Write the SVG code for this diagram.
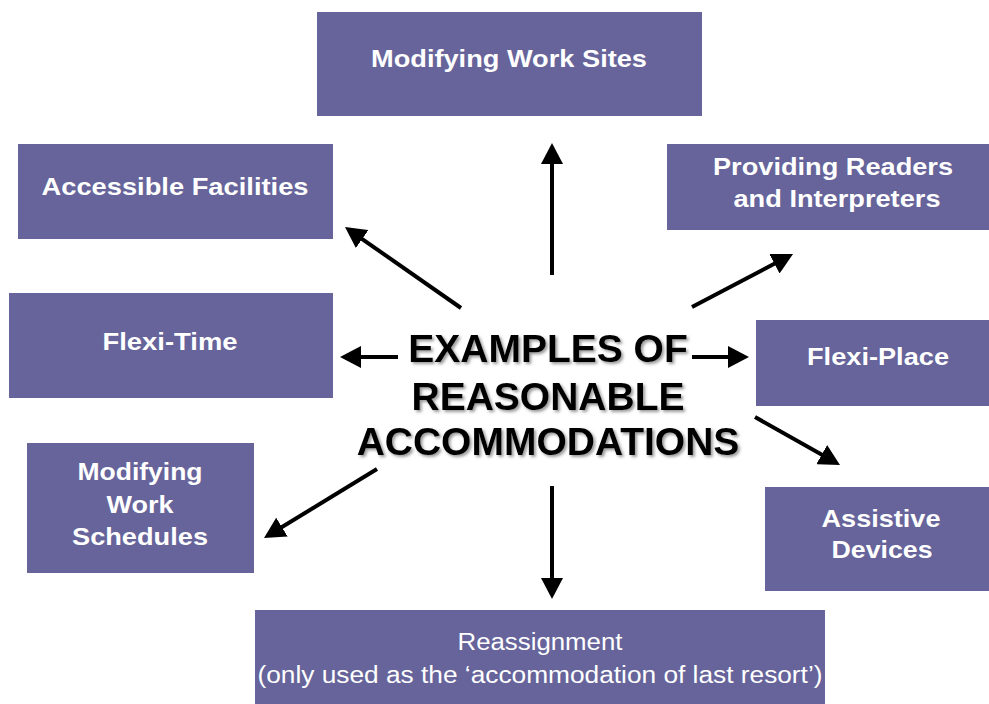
<svg xmlns="http://www.w3.org/2000/svg" width="989" height="704" viewBox="0 0 989 704">
<defs>
<style>
.box{fill:#66649a;}
.lbl{font-family:"Liberation Sans",Arial,sans-serif;font-weight:bold;font-size:24px;fill:#ffffff;text-anchor:middle;}
.lbn{font-family:"Liberation Sans",Arial,sans-serif;font-size:23.5px;fill:#ffffff;text-anchor:middle;}
.center{font-family:"Liberation Sans",Arial,sans-serif;font-weight:bold;font-size:39px;fill:#000000;text-anchor:middle;}
.conn{stroke:#000000;stroke-width:4;fill:none;marker-end:url(#arrow);}
</style>
<marker id="arrow" markerUnits="userSpaceOnUse" markerWidth="22" markerHeight="22" refX="10" refY="11" orient="auto">
<path d="M0,0 L21,11 L0,22 z" fill="#000000"/>
</marker>
<filter id="shadow" x="-10%" y="-20%" width="120%" height="140%">
<feDropShadow dx="2" dy="2" stdDeviation="1.5" flood-color="#555555" flood-opacity="0.6"/>
</filter>
</defs>
<rect width="989" height="704" fill="#ffffff"/>

<g id="modifying-work-sites">
<rect class="box" x="317" y="12" width="385" height="104"/>
<text class="lbl" x="509" y="67" textLength="276" lengthAdjust="spacingAndGlyphs">Modifying Work Sites</text>
</g>
<g id="accessible-facilities">
<rect class="box" x="18" y="144" width="315" height="95"/>
<text class="lbl" x="175" y="195" textLength="267" lengthAdjust="spacingAndGlyphs">Accessible Facilities</text>
</g>
<g id="providing-readers">
<rect class="box" x="667" y="144" width="322" height="86"/>
<text class="lbl" x="833" y="175" textLength="240" lengthAdjust="spacingAndGlyphs">Providing Readers</text>
<text class="lbl" x="837" y="207" textLength="207" lengthAdjust="spacingAndGlyphs">and Interpreters</text>
</g>
<g id="flexi-time">
<rect class="box" x="9" y="293" width="324" height="105"/>
<text class="lbl" x="170" y="350" textLength="135" lengthAdjust="spacingAndGlyphs">Flexi-Time</text>
</g>
<g id="flexi-place">
<rect class="box" x="756" y="320" width="233" height="86"/>
<text class="lbl" x="878" y="365" textLength="142" lengthAdjust="spacingAndGlyphs">Flexi-Place</text>
</g>
<g id="modifying-work-schedules">
<rect class="box" x="27" y="443" width="227" height="130"/>
<text class="lbl" x="140" y="480" textLength="125" lengthAdjust="spacingAndGlyphs">Modifying</text>
<text class="lbl" x="140" y="513" textLength="67" lengthAdjust="spacingAndGlyphs">Work</text>
<text class="lbl" x="140" y="545" textLength="136" lengthAdjust="spacingAndGlyphs">Schedules</text>
</g>
<g id="assistive-devices">
<rect class="box" x="765" y="487" width="224" height="104"/>
<text class="lbl" x="881" y="527" textLength="119" lengthAdjust="spacingAndGlyphs">Assistive</text>
<text class="lbl" x="882" y="558" textLength="101" lengthAdjust="spacingAndGlyphs">Devices</text>
</g>
<g id="reassignment">
<rect class="box" x="255" y="610" width="570" height="94"/>
<text class="lbn" x="540" y="650" textLength="165" lengthAdjust="spacingAndGlyphs">Reassignment</text>
<text class="lbn" x="540" y="683" textLength="565" lengthAdjust="spacingAndGlyphs">(only used as the ‘accommodation of last resort’)</text>
</g>

<g id="center" filter="url(#shadow)">
<text class="center" x="548" y="362">EXAMPLES OF</text>
<text class="center" x="548" y="410">REASONABLE</text>
<text class="center" x="548" y="455">ACCOMMODATIONS</text>
</g>

<g id="connectors">
<line class="conn" x1="552" y1="275" x2="552" y2="154"/>
<line class="conn" x1="461" y1="308" x2="354" y2="233.3"/>
<line class="conn" x1="692" y1="307" x2="783.3" y2="259.1"/>
<line class="conn" x1="398" y1="357" x2="351" y2="357"/>
<line class="conn" x1="692" y1="357" x2="738" y2="357"/>
<line class="conn" x1="755" y1="417" x2="830.4" y2="459.6"/>
<line class="conn" x1="377" y1="469" x2="273.4" y2="532.3"/>
<line class="conn" x1="552" y1="486" x2="552" y2="588"/>
</g>
</svg>
